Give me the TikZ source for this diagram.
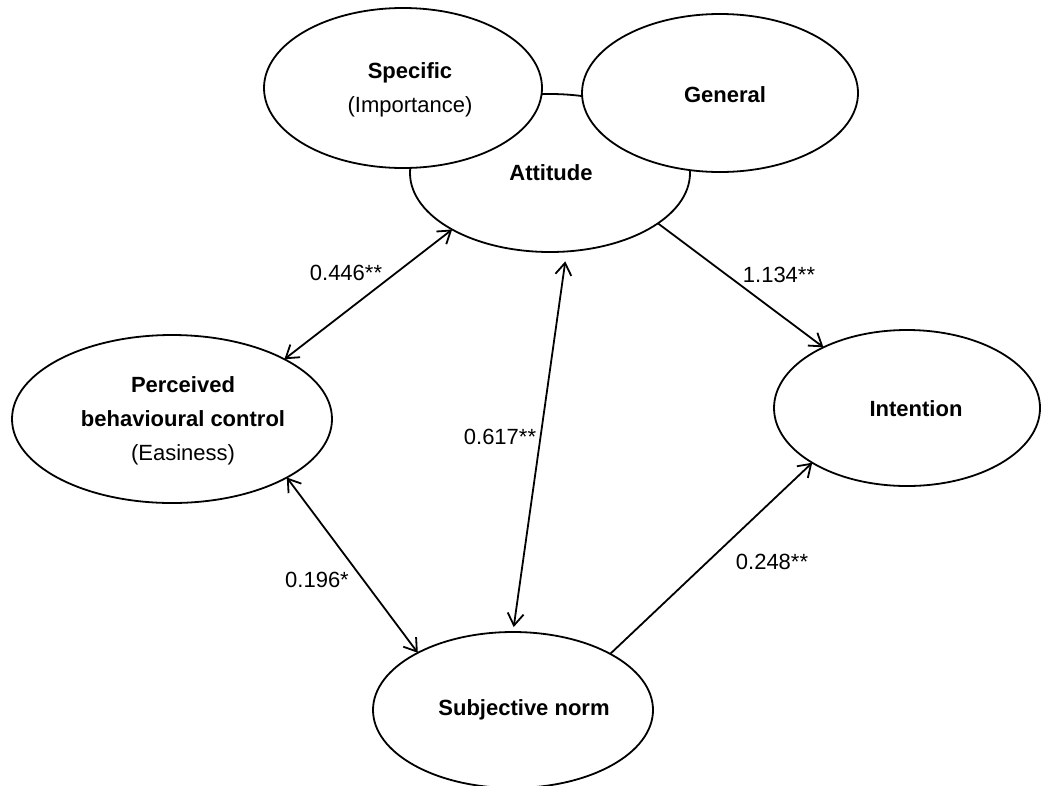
\documentclass[tikz,border=0pt]{standalone}
\usepackage{fontspec}
\setmainfont{Liberation Sans}
\usetikzlibrary{shapes.geometric,arrows.meta}
\begin{document}
\begin{tikzpicture}[x=1pt,y=-1pt,
  ell/.style={draw, ellipse, line width=1.8pt, fill=white, inner sep=0pt, outer sep=0pt},
  lab/.style={font=\fontsize{22}{26}\selectfont, inner sep=0pt},
  txt/.style={font=\fontsize{22}{34}\selectfont\bfseries, align=center, inner sep=0pt},
  con/.style={line width=1.8pt},
  tip/.tip={Straight Barb[length=12pt,width=16pt]},
  dbl/.style={con, tip-tip},
  sgl/.style={con, -tip}]
\useasboundingbox (0,0) rectangle (1043,785);
% ellipses
\node[ell, minimum width=280pt, minimum height=158pt] (att) at (550,173) {};
\node[ell, minimum width=278pt, minimum height=160pt] (spec) at (403,88) {};
\node[ell, minimum width=276pt, minimum height=158pt] (gen) at (720,93) {};
\node[ell, minimum width=320pt, minimum height=168pt] (pbc) at (172,419) {};
\node[ell, minimum width=266pt, minimum height=156pt] (int) at (907,408) {};
\node[ell, minimum width=280pt, minimum height=156pt] (sn) at (513,710) {};
% texts
\node[txt] (spect) at (410,90) {Specific\\\mdseries(Importance)};
\node[txt] (gent) at (725,95) {General};
\node[txt] (attt) at (551,173) {Attitude};
\node[txt] (pbct) at (183,421) {Perceived\\behavioural control\\\mdseries(Easiness)};
\node[txt] (intt) at (916,409) {Intention};
\node[txt] (snt) at (524,710) {Subjective norm};
% connectors
\draw[dbl] (att.210) -- (pbc.28);
\draw[dbl, shorten <=10pt, shorten >=5pt] (att.-78.5) -- (sn.90);
\draw[dbl] (pbc.-27) -- (sn.149);
\draw[sgl] (att.-25.7) -- (int.144);
\draw[sgl] (sn.30) -- (int.210);
% labels
\node[lab] (l1) at (346,273) {0.446**};
\node[lab] (l2) at (779,275) {1.134**};
\node[lab] (l3) at (500,437) {0.617**};
\node[lab] (l4) at (317,580) {0.196*};
\node[lab] (l5) at (772,562) {0.248**};
\end{tikzpicture}
\end{document}
